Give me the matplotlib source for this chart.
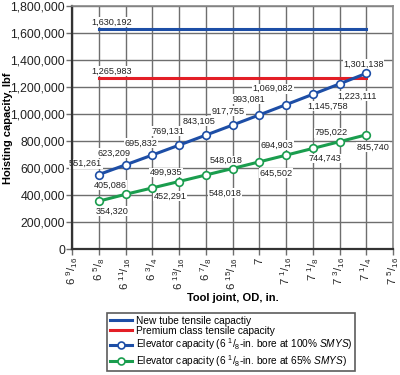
import matplotlib
matplotlib.use("Agg")
import matplotlib.pyplot as plt
from matplotlib.ticker import FuncFormatter, FixedLocator

FONT = ['Liberation Sans', 'DejaVu Sans']
plt.rcParams['font.family'] = FONT
plt.rcParams['mathtext.fontset'] = 'custom'
plt.rcParams['mathtext.rm'] = 'Liberation Sans'
plt.rcParams['mathtext.it'] = 'Liberation Sans:italic'
plt.rcParams['mathtext.bf'] = 'Liberation Sans:bold'

# ---- data ----
x_ticks = [6 + 9/16, 6 + 10/16, 6 + 11/16, 6 + 12/16, 6 + 13/16, 6 + 14/16, 6 + 15/16,
           7.0, 7 + 1/16, 7 + 2/16, 7 + 3/16, 7 + 4/16, 7 + 5/16]
x_tick_labels = [r'6 $^{9}/_{16}$', r'6 $^{5}/_{8}$', r'6 $^{11}/_{16}$', r'6 $^{3}/_{4}$',
                 r'6 $^{13}/_{16}$', r'6 $^{7}/_{8}$', r'6 $^{15}/_{16}$', '7',
                 r'7 $^{1}/_{16}$', r'7 $^{1}/_{8}$', r'7 $^{3}/_{16}$', r'7 $^{1}/_{4}$',
                 r'7 $^{5}/_{16}$']
od = [6 + 10/16, 6 + 11/16, 6 + 12/16, 6 + 13/16, 6 + 14/16, 6 + 15/16,
      7.0, 7 + 1/16, 7 + 2/16, 7 + 3/16, 7 + 4/16]
new_tube = 1630192
premium = 1265983
elev_100 = [551261, 623209, 695832, 769131, 843105, 917755, 993081,
            1069082, 1145758, 1223111, 1301138]
elev_65 = [354320, 405086, 452291, 499935, 548018, 596000, 645502,
           694903, 744743, 795022, 845740]
elev_100_labels = ['551,261', '623,209', '695,832', '769,131', '843,105', '917,755',
                   '993,081', '1,069,082', '1,145,758', '1,223,111', '1,301,138']
elev_65_labels = ['354,320', '405,086', '452,291', '499,935', '548,018', '548,018',
                  '645,502', '694,903', '744,743', '795,022', '845,740']
y_ticks = [0, 200000, 400000, 600000, 800000, 1000000, 1200000, 1400000, 1600000, 1800000]
legend_labels = ['New tube tensile capactiy',
                 'Premium class tensile capacity',
                 r'Elevator capacity (6 $^{1}/_{8}$-in. bore at 100% $\mathit{SMYS}$)',
                 r'Elevator capacity (6 $^{1}/_{8}$-in. bore at 65% $\mathit{SMYS}$)']

# ---- styles ----
BLUE = '#1d4ea6'
RED = '#e31e26'
GREEN = '#1a9d4e'
GRID = '#6e6e6e'

off_100 = [(-13, 11), (-11, 12), (-11, 12), (-11, 14), (-7, 14), (-4, 14), (-10, 16),
           (-13, 16), (15, -12), (18, -12), (-3, 9)]
off_65 = [(13, -10), (-15, 9), (18, -8), (-13, 9), (19, -18), (-6, 8), (17, -11),
          (-9, 10), (12, -10), (-8, 9), (7, -12)]

fig = plt.figure(figsize=(4.0, 3.75), dpi=100)
ax = fig.add_axes([72/400, 1 - 249/375, (393 - 72)/400, (249 - 6)/375])

ax.set_xlim(x_ticks[0], x_ticks[-1])
ax.set_ylim(0, 1800000)
ax.xaxis.set_major_locator(FixedLocator(x_ticks))
ax.set_xticklabels(x_tick_labels, rotation=90, fontsize=8.2, color='#222222')
ax.set_yticks(y_ticks)
ax.yaxis.set_major_formatter(FuncFormatter(lambda v, p: f'{int(v):,}'))
ax.tick_params(axis='y', labelsize=8.8, colors='#222222', length=4, width=1, pad=1)
ax.tick_params(axis='x', length=4, width=1, pad=2, colors='#222222')
ax.tick_params(axis='both', color=GRID)
ax.grid(True, color=GRID, linewidth=1.0, zorder=0)
ax.set_axisbelow(True)
for s in ['top', 'right']:
    ax.spines[s].set_color('#888888')
    ax.spines[s].set_linewidth(1.2)
for s in ['left', 'bottom']:
    ax.spines[s].set_color('#333333')
    ax.spines[s].set_linewidth(1.6)

l1, = ax.plot([od[0], od[-1]], [new_tube, new_tube], color=BLUE, lw=2.2, zorder=3)
l2, = ax.plot([od[0], od[-1]], [premium, premium], color=RED, lw=2.2, zorder=3)
l3, = ax.plot(od, elev_100, color=BLUE, lw=2.2, marker='o', ms=5.5,
              mfc='white', mec=BLUE, mew=1.2, zorder=4)
l4, = ax.plot(od, elev_65, color=GREEN, lw=2.2, marker='o', ms=5.5,
              mfc='white', mec=GREEN, mew=1.2, zorder=4)

bbox = dict(facecolor='white', edgecolor='none', pad=0.3)
lab_kw = dict(textcoords='offset pixels', ha='center', va='center', fontsize=6.6,
              color='#222222', bbox=bbox, zorder=2)
ax.annotate(f'{new_tube:,}', (od[0], new_tube), xytext=(13, 7), **lab_kw)
ax.annotate(f'{premium:,}', (od[0], premium), xytext=(13, 7), **lab_kw)
for xv, yv, t, o in zip(od, elev_100, elev_100_labels, off_100):
    ax.annotate(t, (xv, yv), xytext=o, **lab_kw)
for xv, yv, t, o in zip(od, elev_65, elev_65_labels, off_65):
    ax.annotate(t, (xv, yv), xytext=o, **lab_kw)

fig.text(8/400, 1 - 128/375, 'Hoisting capacity, lbf', rotation=90, ha='center',
         va='center', fontsize=8, fontweight='bold')
fig.text(233/400, 1 - 298/375, 'Tool joint, OD, in.', ha='center', va='center',
         fontsize=8, fontweight='bold')

leg = fig.legend([l1, l2, l3, l4], legend_labels, loc='upper left',
                 bbox_to_anchor=(107/400, 1 - 313/375), fontsize=7.3,
                 frameon=True, fancybox=False, borderpad=0.25, labelspacing=0.05,
                 handlelength=2.2, handletextpad=0.4, borderaxespad=0)
leg.get_frame().set_edgecolor('#333333')
leg.get_frame().set_linewidth(1.2)
for h in leg.legend_handles:
    h.set_markersize(5)

fig.savefig('out.png', dpi=100)
